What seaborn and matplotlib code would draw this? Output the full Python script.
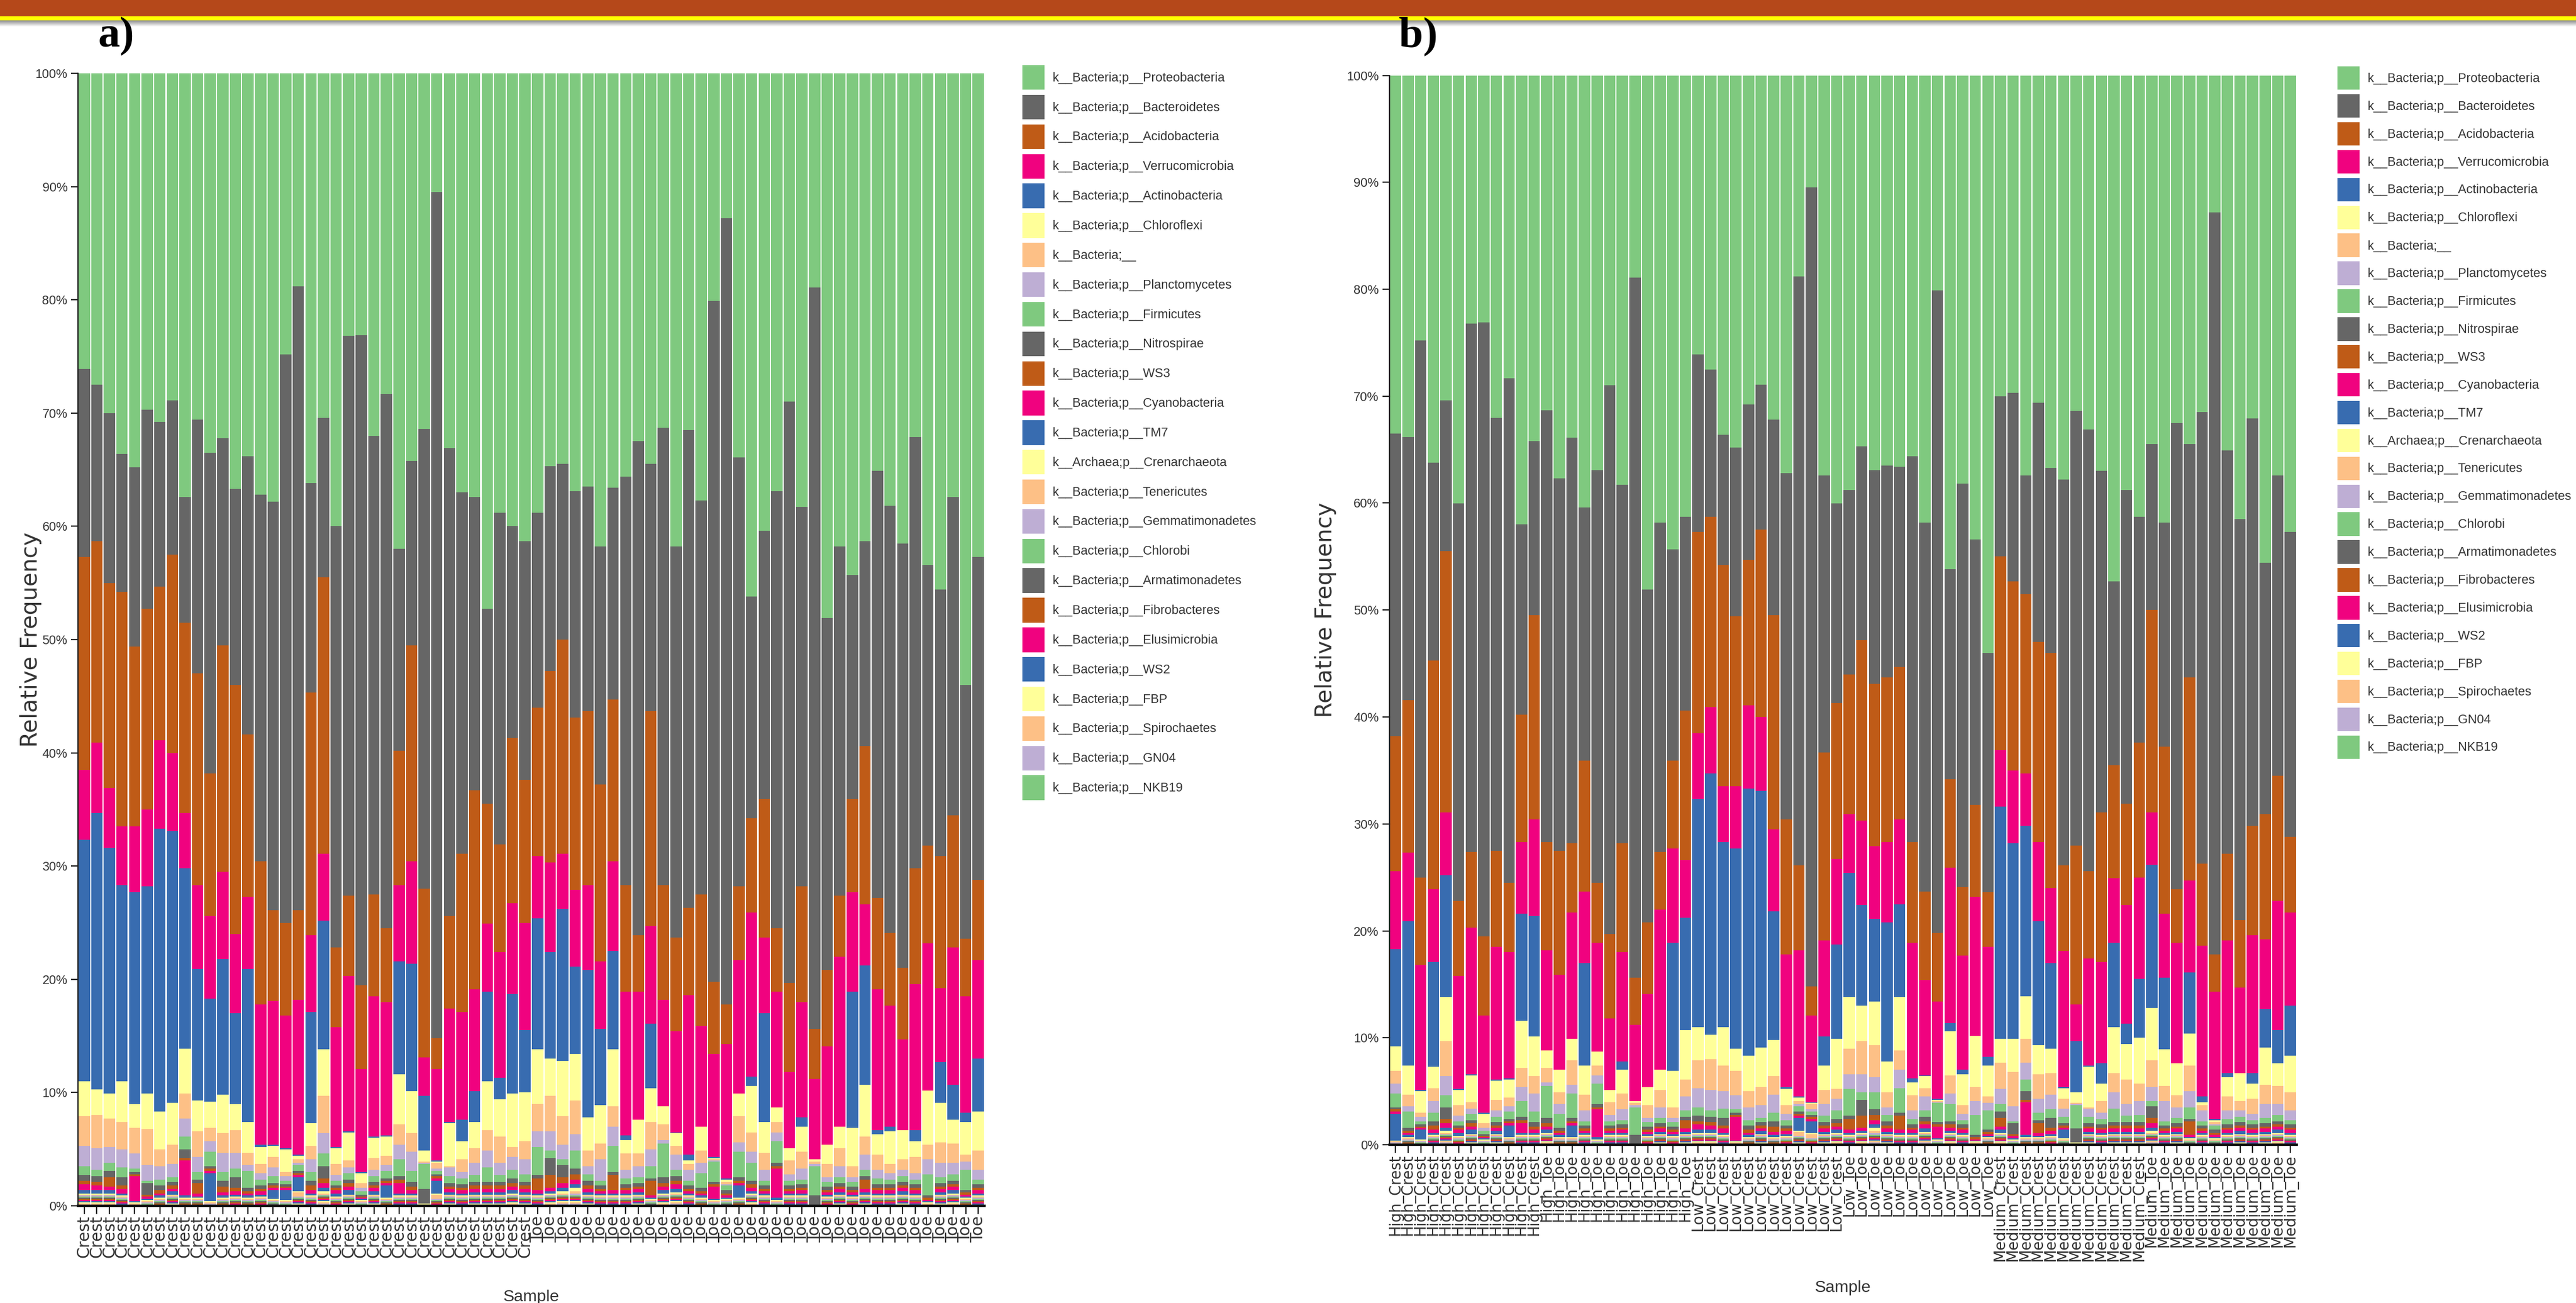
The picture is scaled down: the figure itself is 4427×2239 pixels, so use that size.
import numpy as np
import pandas as pd
import matplotlib
matplotlib.use("Agg")
import matplotlib.pyplot as plt
import matplotlib.font_manager as fm
from matplotlib.patches import Patch, Rectangle
from matplotlib.ticker import PercentFormatter
import seaborn as sns

# ================= data =================
TAXA = [
    "k__Bacteria;p__Proteobacteria", "k__Bacteria;p__Bacteroidetes",
    "k__Bacteria;p__Acidobacteria", "k__Bacteria;p__Verrucomicrobia",
    "k__Bacteria;p__Actinobacteria", "k__Bacteria;p__Chloroflexi",
    "k__Bacteria;__", "k__Bacteria;p__Planctomycetes",
    "k__Bacteria;p__Firmicutes", "k__Bacteria;p__Nitrospirae",
    "k__Bacteria;p__WS3", "k__Bacteria;p__Cyanobacteria",
    "k__Bacteria;p__TM7", "k__Archaea;p__Crenarchaeota",
    "k__Bacteria;p__Tenericutes", "k__Bacteria;p__Gemmatimonadetes",
    "k__Bacteria;p__Chlorobi", "k__Bacteria;p__Armatimonadetes",
    "k__Bacteria;p__Fibrobacteres", "k__Bacteria;p__Elusimicrobia",
    "k__Bacteria;p__WS2", "k__Bacteria;p__FBP",
    "k__Bacteria;p__Spirochaetes", "k__Bacteria;p__GN04",
    "k__Bacteria;p__NKB19",
]
COLOR_CYCLE = ["#7fc97f", "#666666", "#bf5b17", "#f0027f",
               "#386cb0", "#ffff99", "#fdc086", "#beaed4"]

# sample order of panel a: 36 crest samples then 36 toe samples
SLOPE = ["Crest"] * 36 + ["Toe"] * 36
ELEVATION = [
    "Low", "Low", "Medium", "Low", "Low", "Medium", "Low", "Low", "Medium", "Medium",
    "High", "Low", "Medium", "High", "Low", "Medium", "High", "Low", "High", "High",
    "High", "High", "High", "High", "High", "High", "High", "Medium", "Low", "Medium",
    "Medium", "Low", "Medium", "Medium", "Low", "Medium", "Low", "Low", "Medium", "Low",
    "Low", "Medium", "Low", "Low", "Medium", "Medium", "High", "Low", "Medium", "High",
    "Low", "Medium", "High", "Low", "High", "High", "High", "High", "High", "High",
    "High", "High", "High", "Medium", "Low", "Medium", "Medium", "Low", "Medium", "Medium",
    "Low", "Medium",
]

# relative abundance (%) per sample
PROTEO = [26.1, 27.5, 30.0, 33.6, 34.8, 29.7, 30.8, 28.9, 37.4, 30.6,
          33.5, 32.2, 36.7, 33.8, 37.2, 37.8, 24.8, 18.8, 36.2, 30.4,
          40.0, 23.2, 23.1, 32.0, 28.3, 42.0, 34.2, 31.4, 10.5, 33.1,
          37.0, 37.4, 47.3, 38.8, 40.0, 41.3, 38.8, 34.7, 34.5, 36.9,
          36.5, 41.8, 36.6, 35.6, 32.5, 34.5, 31.3, 41.8, 31.5, 37.7,
          20.1, 12.8, 33.9, 46.2, 40.4, 36.9, 29.0, 38.3, 18.9, 48.1,
          41.8, 44.3, 41.3, 35.1, 38.2, 41.5, 32.1, 43.4, 45.6, 37.4,
          54.0, 42.7]
BACTERO = [16.6, 13.8, 15.0, 12.2, 15.8, 17.6, 14.5, 13.6, 11.1, 22.4,
           28.3, 18.3, 17.3, 24.6, 32.4, 36.1, 50.2, 55.1, 18.5, 14.1,
           37.2, 49.4, 57.4, 40.5, 47.2, 17.8, 16.3, 40.6, 74.7, 41.3,
           31.9, 25.9, 17.2, 29.3, 18.7, 21.1, 17.2, 18.1, 15.5, 20.0,
           19.8, 21.0, 18.7, 36.1, 43.6, 21.8, 40.4, 34.5, 42.2, 34.8,
           60.1, 69.4, 37.9, 19.6, 23.7, 38.6, 51.3, 33.5, 65.5, 31.1,
           30.8, 19.8, 18.1, 37.7, 37.7, 37.5, 38.1, 24.8, 23.5, 28.1,
           22.4, 28.5]
ACIDO = [18.8, 17.8, 18.1, 20.7, 15.9, 17.7, 13.6, 17.5, 16.8, 18.7,
         12.6, 20.0, 22.0, 14.3, 12.6, 8.0, 8.2, 7.9, 21.4, 24.4,
         7.0, 7.1, 7.4, 9.0, 6.5, 11.9, 19.1, 14.9, 2.7, 8.2,
         14.0, 17.6, 10.6, 9.5, 14.6, 12.6, 13.1, 16.9, 18.9, 15.2,
         15.4, 15.6, 14.3, 9.4, 5.0, 19.0, 10.1, 8.3, 7.7, 11.6,
         6.4, 3.5, 6.5, 8.3, 12.2, 5.6, 7.9, 10.2, 4.4, 6.7,
         5.4, 8.2, 14.0, 8.1, 6.4, 6.3, 10.2, 8.6, 11.7, 11.7,
         5.1, 7.1]
VERRUCO = [6.2, 6.2, 5.3, 5.2, 5.8, 6.8, 7.8, 6.9, 4.9, 7.4,
           7.3, 7.7, 7.0, 6.4, 12.4, 12.7, 11.7, 13.7, 6.8, 5.9,
           10.6, 13.7, 9.1, 12.4, 11.8, 6.7, 9.0, 3.4, 8.1, 10.0,
           9.5, 9.0, 6.0, 11.1, 8.0, 9.5, 5.5, 7.9, 4.9, 6.8,
           7.5, 6.0, 7.9, 12.7, 11.3, 8.6, 9.4, 8.9, 14.1, 8.9,
           9.1, 11.9, 11.8, 14.5, 6.7, 10.2, 6.7, 10.2, 7.1, 8.7,
           15.0, 8.8, 5.4, 12.4, 10.7, 8.0, 12.9, 13.0, 6.5, 12.1,
           10.3, 8.7]
ACTINO = [21.3, 24.4, 21.7, 17.3, 18.7, 18.3, 25.0, 24.0, 15.9, 11.6,
          9.1, 12.0, 8.0, 13.5, 0.2, 0.1, 0.1, 0.1, 9.8, 11.4,
          0.1, 0.1, 0.1, 0.1, 0.1, 10.0, 11.3, 4.8, 0.1, 0.1,
          1.9, 2.7, 7.9, 1.9, 8.8, 5.5, 11.6, 9.4, 13.4, 7.7,
          13.0, 6.7, 8.7, 0.4, 0.0, 5.7, 0.0, 0.1, 0.5, 0.0,
          0.1, 0.1, 0.0, 0.8, 9.6, 0.0, 0.0, 0.8, 0.0, 0.0,
          0.0, 12.0, 10.5, 0.4, 0.4, 0.0, 1.0, 0.0, 3.6, 3.1,
          0.8, 4.7]
CHLOROFLEXI = [3.1, 2.3, 2.2, 3.6, 2.1, 3.1, 3.3, 3.7, 4.0, 2.7,
               2.3, 3.4, 2.3, 2.7, 1.5, 1.0, 2.0, 0.3, 2.0, 4.1,
               1.4, 2.5, 0.9, 1.8, 1.7, 4.4, 3.7, 1.0, 0.1, 3.8,
               1.6, 2.3, 4.3, 3.3, 4.7, 4.3, 4.8, 3.3, 4.9, 4.1,
               2.9, 3.4, 5.0, 1.2, 3.0, 3.0, 1.6, 1.1, 0.3, 2.1,
               0.1, 0.2, 2.0, 4.1, 2.7, 1.3, 1.1, 2.2, 0.2, 1.7,
               1.9, 3.4, 4.6, 1.8, 2.9, 2.6, 1.4, 4.8, 3.5, 2.1,
               2.9, 3.4]
UNASSIGNED = [2.6, 2.9, 2.5, 2.4, 2.3, 3.2, 1.5, 1.7, 2.2, 2.3,
              1.2, 1.7, 2.0, 1.1, 0.8, 0.9, 0.4, 0.3, 1.2, 3.3,
              1.0, 0.6, 0.4, 1.0, 0.8, 1.8, 1.6, 0.1, 0.5, 0.1,
              1.1, 1.3, 1.8, 2.3, 0.9, 1.6, 2.4, 3.1, 2.5, 3.0,
              1.4, 1.4, 1.8, 1.4, 1.1, 2.4, 1.4, 0.8, 0.5, 1.1,
              0.1, 0.2, 2.3, 1.7, 1.5, 0.9, 1.2, 1.5, 0.2, 1.2,
              1.6, 1.0, 1.6, 1.3, 0.8, 0.9, 1.4, 1.3, 1.8, 1.7,
              0.6, 1.7]
PLANCTO = [1.8, 1.9, 1.4, 1.6, 1.3, 1.4, 1.2, 1.2, 1.6, 1.3,
           0.9, 1.7, 1.4, 0.5, 0.6, 0.8, 0.4, 0.2, 1.1, 1.8,
           0.5, 0.5, 0.3, 0.6, 0.5, 1.3, 1.7, 0.1, 0.2, 0.8,
           0.6, 1.1, 1.5, 1.1, 1.1, 1.3, 1.4, 1.7, 1.3, 1.4,
           0.7, 1.9, 1.7, 0.8, 1.0, 1.5, 0.3, 1.3, 1.0, 0.9,
           0.1, 0.1, 0.8, 1.0, 1.0, 0.8, 0.6, 1.0, 0.2, 0.4,
           1.0, 0.4, 1.3, 0.8, 0.6, 0.6, 0.6, 1.3, 1.3, 1.0,
           0.7, 0.9]
FIRMI = [0.8, 0.6, 0.7, 0.9, 0.3, 0.2, 0.5, 0.4, 1.1, 0.7,
         1.3, 0.8, 0.8, 1.5, 0.5, 0.6, 0.3, 0.5, 0.8, 1.1,
         0.4, 0.6, 0.3, 0.5, 0.7, 1.5, 1.0, 2.2, 0.3, 0.6,
         0.5, 0.6, 1.3, 0.6, 0.8, 0.7, 2.5, 0.7, 0.5, 1.6,
         0.6, 0.4, 2.3, 0.5, 0.5, 1.1, 3.0, 0.6, 0.4, 1.3,
         1.8, 0.4, 2.3, 1.6, 0.4, 1.9, 0.4, 0.4, 2.6, 0.4,
         0.5, 0.4, 0.6, 0.5, 0.4, 0.5, 0.4, 1.9, 0.5, 0.6,
         1.8, 0.4]
NITRO = [0.5, 0.5, 0.6, 0.7, 0.2, 1.0, 0.4, 0.3, 0.8, 0.3,
         0.2, 0.5, 0.9, 0.3, 0.3, 0.2, 0.2, 0.2, 0.4, 1.1,
         0.2, 0.3, 0.2, 0.3, 0.2, 0.3, 0.4, 1.3, 0.2, 0.3,
         0.3, 0.3, 0.3, 0.3, 0.4, 0.3, 0.3, 1.5, 1.1, 0.5,
         0.4, 0.3, 0.3, 0.3, 0.3, 0.2, 0.5, 0.4, 0.3, 0.3,
         0.2, 0.3, 0.3, 0.3, 0.3, 0.3, 0.3, 0.3, 0.8, 0.3,
         0.3, 0.3, 0.3, 0.3, 0.3, 0.3, 0.3, 0.2, 0.3, 0.3,
         0.2, 0.3]
WS3 = [0.3, 0.3, 0.8, 0.3, 0.2, 0.2, 0.3, 0.3, 0.2, 0.9,
       0.2, 0.5, 0.3, 0.2, 0.2, 0.2, 0.1, 0.2, 0.4, 0.4,
       0.2, 0.3, 0.1, 0.2, 0.2, 0.3, 0.3, 0.0, 0.2, 0.2,
       0.2, 0.3, 0.3, 0.3, 0.3, 0.3, 1.0, 1.1, 0.5, 0.5,
       0.3, 0.2, 1.3, 0.2, 0.2, 1.3, 0.3, 0.3, 0.2, 0.2,
       0.2, 0.2, 0.2, 0.3, 0.2, 0.2, 0.2, 0.2, 0.0, 0.2,
       0.2, 0.2, 0.8, 0.2, 0.2, 0.2, 0.2, 0.2, 0.2, 0.2,
       0.2, 0.2]
CYANO = [0.5, 0.4, 0.3, 0.4, 2.2, 0.2, 0.2, 0.2, 3.1, 0.3,
         0.2, 0.3, 0.3, 0.2, 0.3, 0.2, 0.2, 0.2, 0.3, 0.4,
         0.3, 0.3, 0.1, 0.3, 0.2, 0.9, 0.3, 0.0, 0.2, 0.3,
         0.3, 0.3, 0.3, 0.3, 0.3, 0.3, 0.3, 0.3, 0.4, 0.4,
         0.3, 0.2, 0.3, 0.3, 0.3, 0.2, 0.3, 0.4, 0.2, 0.2,
         1.1, 0.2, 0.2, 0.3, 0.2, 2.6, 0.2, 0.3, 0.0, 0.2,
         0.3, 0.2, 0.3, 0.3, 0.3, 0.3, 0.3, 0.1, 0.3, 0.3,
         0.2, 0.3]
TM7 = [0.3, 0.3, 0.3, 0.2, 0.1, 0.1, 0.2, 0.3, 0.2, 0.1,
       2.5, 0.2, 0.2, 0.2, 0.2, 0.8, 0.9, 1.2, 0.2, 0.3,
       0.3, 0.4, 0.1, 0.3, 1.1, 0.2, 0.2, 0.0, 1.1, 0.2,
       0.2, 0.2, 0.2, 0.2, 0.3, 0.2, 0.2, 0.2, 0.3, 0.3,
       0.2, 0.2, 0.2, 0.2, 0.2, 0.1, 0.3, 0.3, 0.2, 0.2,
       0.1, 0.1, 1.1, 0.2, 0.2, 0.2, 0.2, 0.2, 0.0, 0.2,
       0.2, 0.2, 0.2, 0.2, 0.2, 0.3, 0.2, 0.1, 0.2, 0.3,
       0.1, 0.2]
# rare phyla, in tenths of a percent
CRENARCH_T = [1, 1, 1, 1, 1, 1, 1, 1, 1, 1, 1, 1, 1, 1, 1, 1, 1, 1, 1, 2,
              1, 1, 1, 1, 1, 1, 1, 1, 1, 1, 1, 1, 1, 1, 1, 1, 1, 1, 2, 3,
              1, 1, 1, 1, 1, 1, 1, 1, 1, 1, 1, 1, 1, 1, 1, 1, 1, 1, 1, 1,
              1, 1, 1, 1, 1, 1, 1, 1, 1, 1, 1, 1]
TENERI_T = [1, 1, 1, 1, 1, 1, 1, 1, 1, 1, 1, 1, 1, 1, 1, 1, 1, 4, 1, 1,
            1, 1, 1, 1, 1, 1, 1, 1, 4, 1, 1, 1, 1, 1, 1, 1, 1, 1, 1, 2,
            1, 1, 1, 1, 1, 1, 1, 1, 1, 1, 1, 1, 1, 1, 1, 1, 1, 1, 0, 1,
            1, 1, 1, 1, 1, 1, 1, 1, 1, 1, 1, 1]
GEMMA_T = [1, 1, 1, 1, 1, 1, 1, 1, 1, 1, 1, 1, 1, 1, 1, 1, 1, 1, 1, 1,
           1, 1, 1, 1, 1, 1, 1, 0, 1, 1, 1, 1, 1, 1, 1, 1, 1, 1, 1, 2,
           1, 1, 1, 1, 1, 1, 1, 1, 1, 1, 1, 1, 1, 1, 1, 1, 1, 1, 0, 1,
           1, 1, 1, 1, 1, 1, 1, 1, 1, 1, 1, 1]
CHLOROBI_T = [1, 1, 1, 1, 0, 1, 1, 1, 1, 1, 1, 1, 1, 1, 1, 1, 1, 1, 1, 1,
              1, 1, 1, 1, 1, 1, 1, 0, 1, 1, 1, 1, 1, 1, 1, 1, 1, 1, 1, 1,
              1, 1, 1, 1, 1, 1, 1, 1, 1, 1, 1, 1, 1, 1, 1, 1, 1, 1, 0, 1,
              1, 1, 1, 1, 1, 1, 1, 0, 1, 1, 1, 1]
ARMAT_T = [1, 1, 1, 1, 0, 1, 1, 1, 1, 1, 0, 1, 1, 1, 1, 1, 1, 1, 1, 1,
           1, 1, 1, 1, 1, 1, 1, 0, 1, 1, 1, 1, 1, 1, 1, 1, 1, 1, 1, 1,
           1, 1, 1, 1, 1, 1, 1, 1, 1, 1, 1, 1, 1, 1, 1, 1, 1, 1, 0, 1,
           1, 1, 1, 1, 1, 1, 1, 0, 1, 1, 1, 1]
FIBRO_T = [1, 1, 1, 1, 0, 0, 1, 1, 1, 1, 0, 1, 1, 1, 1, 1, 0, 1, 1, 1,
           1, 1, 0, 1, 1, 1, 1, 0, 1, 1, 1, 1, 1, 1, 1, 1, 1, 1, 1, 1,
           1, 1, 1, 1, 1, 1, 1, 1, 1, 1, 0, 1, 1, 1, 1, 0, 1, 1, 0, 1,
           1, 1, 1, 1, 1, 1, 1, 0, 1, 1, 1, 1]
ELUSI_T = [1, 1, 1, 1, 0, 0, 1, 1, 1, 1, 0, 1, 1, 1, 1, 0, 0, 1, 1, 1,
           1, 1, 0, 1, 1, 1, 1, 0, 1, 1, 1, 1, 1, 1, 1, 1, 1, 1, 1, 1,
           1, 1, 1, 1, 1, 0, 1, 1, 1, 1, 0, 0, 1, 1, 1, 0, 1, 1, 0, 1,
           1, 1, 1, 1, 1, 1, 1, 0, 1, 1, 1, 1]
WS2_T = [1, 1, 1, 1, 0, 0, 0, 1, 0, 0, 0, 0, 1, 0, 1, 0, 0, 1, 1, 1,
         1, 1, 0, 1, 0, 1, 1, 0, 1, 1, 1, 1, 1, 1, 1, 1, 1, 1, 1, 1,
         1, 1, 1, 1, 1, 0, 1, 1, 1, 0, 0, 0, 0, 1, 1, 0, 1, 1, 0, 1,
         1, 1, 1, 1, 1, 1, 1, 0, 1, 1, 0, 1]
FBP_T = [1, 1, 1, 1, 0, 0, 0, 1, 0, 0, 0, 0, 0, 0, 0, 0, 0, 1, 1, 1,
         0, 1, 0, 1, 0, 1, 1, 0, 0, 1, 1, 1, 1, 1, 1, 1, 1, 1, 1, 1,
         1, 1, 1, 1, 1, 0, 1, 1, 1, 0, 0, 0, 0, 1, 1, 0, 1, 1, 0, 0,
         1, 0, 1, 1, 1, 1, 1, 0, 1, 1, 0, 1]
SPIRO_T = [1, 1, 1, 0, 0, 0, 0, 1, 0, 0, 0, 0, 0, 0, 0, 0, 0, 1, 0, 1,
           0, 1, 0, 1, 0, 0, 0, 0, 0, 1, 0, 1, 1, 1, 1, 1, 0, 1, 1, 1,
           1, 0, 0, 0, 1, 0, 1, 1, 0, 0, 0, 0, 0, 1, 0, 0, 0, 0, 0, 0,
           1, 0, 1, 0, 0, 1, 0, 0, 1, 1, 0, 0]
GN04_T = [1, 1, 1, 0, 0, 0, 0, 0, 0, 0, 0, 0, 0, 0, 0, 0, 0, 0, 0, 1,
          0, 0, 0, 0, 0, 0, 0, 0, 0, 0, 0, 0, 0, 0, 1, 0, 0, 1, 1, 1,
          0, 0, 0, 0, 0, 0, 1, 1, 0, 0, 0, 0, 0, 1, 0, 0, 0, 0, 0, 0,
          0, 0, 0, 0, 0, 0, 0, 0, 0, 1, 0, 0]
NKB19_T = [0, 0, 0, 0, 0, 0, 0, 0, 0, 0, 0, 0, 0, 0, 0, 0, 0, 0, 0, 1,
           0, 0, 0, 0, 0, 0, 0, 0, 0, 0, 0, 0, 0, 0, 0, 0, 0, 0, 1, 1,
           0, 0, 0, 0, 0, 0, 0, 1, 0, 0, 0, 0, 0, 0, 0, 0, 0, 0, 0, 0,
           0, 0, 0, 0, 0, 0, 0, 0, 0, 0, 0, 0]

W, H = 4427, 2239
TEXT_COLOR = "#333333"


def pick_fonts():
    names = {f.name for f in fm.fontManager.ttflist}
    if "Liberation Sans Narrow" in names:
        return "Liberation Sans Narrow", 1.0
    return "Liberation Sans", 0.82


def build_table():
    rare = [CRENARCH_T, TENERI_T, GEMMA_T, CHLOROBI_T, ARMAT_T, FIBRO_T,
            ELUSI_T, WS2_T, FBP_T, SPIRO_T, GN04_T, NKB19_T]
    main = [PROTEO, BACTERO, ACIDO, VERRUCO, ACTINO, CHLOROFLEXI, UNASSIGNED,
            PLANCTO, FIRMI, NITRO, WS3, CYANO, TM7]
    cols = main + [np.array(r) / 10.0 for r in rare]
    wide = pd.DataFrame({t: c for t, c in zip(TAXA, cols)})
    wide["slope"] = SLOPE
    wide["elevation"] = ELEVATION
    return wide


def draw_panel(fig, ax, wide, tick_labels, tick_size, narrow, nscale,
               ylabel_x, xlabel_y, legend_box):
    palette = {t: COLOR_CYCLE[i % 8] for i, t in enumerate(TAXA)}
    long_df = (wide[TAXA].reset_index(drop=True)
               .rename_axis("pos").reset_index()
               .melt(id_vars="pos", var_name="taxon", value_name="pct"))

    sns.histplot(data=long_df, x="pos", weights="pct", hue="taxon",
                 hue_order=TAXA, palette=palette, multiple="fill",
                 discrete=True, shrink=0.9, alpha=1, linewidth=0,
                 edgecolor="none", legend=False, ax=ax)

    ax.set_xlim(-0.5, 71.5)
    ax.set_ylim(0, 1)
    ax.set_yticks(np.linspace(0, 1, 11))
    ax.yaxis.set_major_formatter(PercentFormatter(1.0, decimals=0))
    ax.set_xticks(range(len(tick_labels)))
    ax.set_xticklabels(tick_labels, rotation=90, fontsize=tick_size,
                       family="DejaVu Sans", color=TEXT_COLOR)
    for lab in ax.get_yticklabels():
        lab.set_family(narrow)
        lab.set_fontsize(19 * nscale)
        lab.set_color(TEXT_COLOR)

    ax.tick_params(axis="x", length=10, width=1.6, pad=2, color="#222222")
    ax.tick_params(axis="y", length=9, width=1.6, pad=4, color="#222222")
    for side in ("top", "right"):
        ax.spines[side].set_visible(False)
    ax.spines["left"].set_linewidth(1.6)
    ax.spines["left"].set_color("#222222")
    ax.spines["bottom"].set_linewidth(3.0)
    ax.spines["bottom"].set_color("#111111")

    ax.set_ylabel("Relative Frequency", fontsize=28, family="DejaVu Sans",
                  color=TEXT_COLOR)
    ax.yaxis.set_label_coords(ylabel_x, 0.5)
    ax.set_xlabel("Sample", fontsize=25 * nscale, family=narrow,
                  color=TEXT_COLOR, va="top")
    ax.xaxis.set_label_coords(0.5, xlabel_y)

    # legend: swatch size and row pitch in pixels
    x_px, top_px, row_px, sw_w, sw_h = legend_box
    fs = 19 * nscale
    px2pt = 0.72
    handles = [Patch(facecolor=palette[t], edgecolor="none") for t in TAXA]
    ax.legend(handles, TAXA, loc="upper left",
              bbox_to_anchor=(x_px / W, 1 - top_px / H),
              bbox_transform=fig.transFigure, frameon=False,
              prop=fm.FontProperties(family=narrow, size=fs),
              labelcolor=TEXT_COLOR,
              handlelength=sw_w * px2pt / fs,
              handleheight=sw_h * px2pt / fs,
              labelspacing=(row_px - sw_h) * px2pt / fs,
              handletextpad=13 * px2pt / fs,
              borderpad=0, borderaxespad=0)


def draw_banner(fig):
    fig.add_artist(Rectangle((0, 1 - 28 / H), 1, 28 / H,
                             transform=fig.transFigure,
                             facecolor="#b5481a", edgecolor="none"))
    fig.add_artist(Rectangle((0, 1 - 35 / H), 1, 7 / H,
                             transform=fig.transFigure,
                             facecolor="#ffff00", edgecolor="none"))
    shade = fig.add_axes([0, 1 - 46 / H, 1, 11 / H])
    grad = np.linspace(0.55, 1.0, 32).reshape(-1, 1)
    shade.imshow(grad, aspect="auto", cmap="gray", vmin=0, vmax=1)
    shade.set_axis_off()


def main():
    sns.set_style("ticks")
    narrow, nscale = pick_fonts()
    plt.rcParams["font.family"] = [narrow, "DejaVu Sans"]

    wide = build_table()
    wide_b = wide.sort_values(["elevation", "slope"], kind="stable")

    fig = plt.figure(figsize=(W / 100, H / 100), dpi=100)
    fig.patch.set_facecolor("white")
    draw_banner(fig)

    ax_a = fig.add_axes([134 / W, 1 - 2072 / H, (1692 - 134) / W, (2072 - 126) / H])
    ax_b = fig.add_axes([2387.5 / W, 1 - 1967 / H, (3947 - 2387.5) / W, (1967 - 129.5) / H])

    draw_panel(fig, ax_a, wide, list(wide["slope"]), 20, narrow, nscale,
               ylabel_x=-0.040, xlabel_y=-0.074,
               legend_box=(1757, 112, 65.5, 38, 57))
    labels_b = list(wide_b["elevation"] + "_" + wide_b["slope"])
    draw_panel(fig, ax_b, wide_b, labels_b, 18.5, narrow, nscale,
               ylabel_x=-0.058, xlabel_y=-0.127,
               legend_box=(4017, 114, 61.5, 38, 54))

    fig.text(200 / W, 1 - 62 / H, "a)", fontsize=54, fontweight="bold",
             family="Liberation Serif", ha="center", va="center", color="black")
    fig.text(2437 / W, 1 - 62 / H, "b)", fontsize=54, fontweight="bold",
             family="Liberation Serif", ha="center", va="center", color="black")

    fig.savefig("out.png", dpi=100, facecolor="white")
    plt.close(fig)


if __name__ == "__main__":
    main()
